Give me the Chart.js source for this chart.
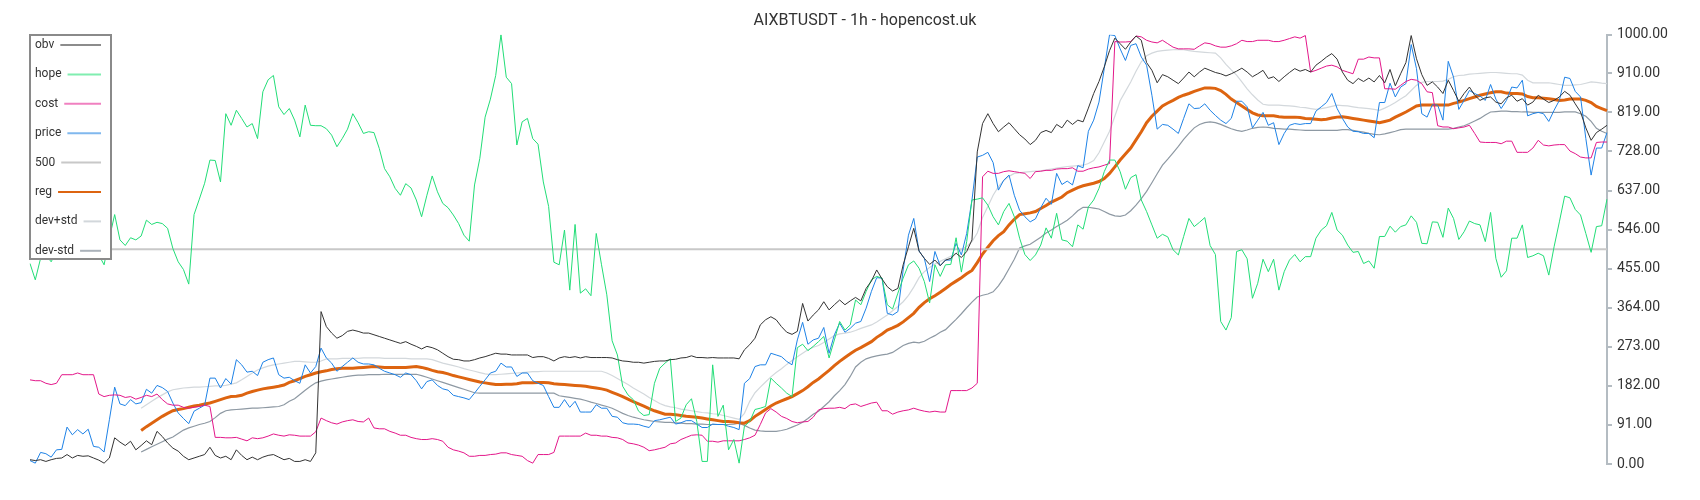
<!DOCTYPE html>
<html>
<head>
<meta charset="utf-8">
<title>AIXBTUSDT - 1h</title>
<script src="https://cdn.jsdelivr.net/npm/chart.js@4.4.1/dist/chart.umd.min.js"></script>
<style>
  html, body { margin: 0; padding: 0; background: #fff; }
  #wrap { width: 1700px; height: 500px; position: relative; }
</style>
</head>
<body>
<div id="wrap"><canvas id="chart"></canvas></div>
<script>
// values, one per hourly candle (299 of them)
const obv = [
  10, 8, 10, 6, 10, 13, 14, 22, 14, 20, 18, 19, 14, 9, 2, 14, 61, 51, 43, 53,
  33, 43, 54, 45, 76, 64, 49, 37, 30, 18, 10, 14, 18, 22, 39, 20, 14, 18, 10, 33,
  20, 10, 16, 10, 16, 20, 22, 16, 10, 13, 6,
  6, 10, 6, 26, 355, 320, 305, 293, 299, 309, 312, 309, 305, 305, 301, 297, 293, 289, 285, 281,
  285, 279, 274, 268, 274, 271, 266, 258, 250, 244, 243, 240, 240, 243, 247, 250, 254, 258, 256, 256,
  254, 254, 254, 254, 248, 250, 250, 246, 240,
  247, 250, 248, 250, 247, 250, 248, 248, 248, 248, 247, 243, 240, 239, 237, 237, 235, 237, 239, 240,
  240, 243, 244, 247, 248, 252, 248, 248, 247, 248, 247, 247, 247, 247, 245, 266, 278, 293, 324, 336,
  343, 336, 320, 307, 302, 309, 374, 333, 347,
  359, 378, 359, 371, 382, 371, 380, 388, 380, 409, 426, 452, 431, 413, 403, 409, 464, 506, 549, 496,
  479, 465, 475, 462, 475, 479, 491, 481, 495, 522, 727, 793, 816, 793, 774, 785, 795, 781, 767, 757,
  744, 754, 772, 777, 772, 791, 783, 801, 791,
  801, 797, 829, 863, 891, 925, 963, 992, 979, 966, 983, 997, 987, 935, 917, 888, 907, 902, 894, 886,
  899, 913, 902, 913, 922, 917, 912, 909, 904, 909, 915, 922, 913, 902, 909, 917, 898, 902, 891, 902,
  912, 921, 915, 919, 913, 929, 938,
  948, 956, 943, 913, 894, 886, 898, 891, 899, 890, 905, 888, 919, 881, 909, 935, 998, 944, 907, 882,
  890, 878, 863, 894, 870, 845, 863, 878, 859, 847, 853, 855, 843, 839, 853, 859, 845, 851, 836, 843,
  859, 850, 842, 847, 855, 868, 859, 839, 820, 783, 754, 772, 780, 789
];

const hope = [
  467, 429, 479, 487, 471, 495, 502, 487, 510, 495, 518, 502, 510, 487, 464, 526, 581, 522, 509, 527,
  522, 531, 568, 558, 563, 560, 549, 502, 471, 453, 419, 581, 617, 654, 708, 707, 657, 816, 789, 824,
  805, 785, 793, 758, 867, 895, 905, 832, 814, 828, 801,
  762, 836, 789, 788, 788, 781, 766, 739, 758, 780, 816, 795, 770, 774, 772, 735, 688, 669, 642, 626,
  653, 643, 615, 576, 626, 671, 634, 607, 597, 580, 560, 533, 519, 650, 712, 808, 850, 905, 1000, 901,
  886, 743, 797, 805, 758, 745, 657, 600, 470,
  464, 545, 405, 558, 398, 408, 392, 537, 464, 394, 287, 254, 181, 161, 150, 123, 113, 115, 188, 223,
  235, 245, 99, 107, 138, 152, 99, 6, 6, 231, 111, 137, 33, 57, 2, 88, 99, 127, 130, 134,
  200, 188, 177, 165, 157, 271, 279, 264, 274,
  285, 297, 247, 289, 332, 312, 324, 382, 371, 402, 429, 437, 433, 371, 361, 398, 433, 464, 473, 456,
  425, 375, 464, 437, 464, 465, 527, 447, 518, 615, 617, 620, 603, 576, 557, 588, 607, 576, 526, 488,
  474, 487, 510, 550, 526, 584, 522, 519, 506,
  557, 547, 599, 615, 642, 681, 708, 708, 681, 640, 667, 674, 615, 588, 557, 526, 535, 529, 499, 487,
  530, 572, 553, 563, 574, 509, 488, 332, 312, 341, 495, 499, 478, 386, 421, 477, 448, 477, 405, 448,
  475, 488, 471, 483, 483, 526, 545,
  555, 586, 545, 533, 510, 493, 495, 467, 473, 456, 530, 530, 554, 540, 553, 557, 578, 563, 514, 513,
  564, 563, 528, 596, 572, 523, 541, 566, 560, 557, 518, 586, 479, 435, 450, 526, 526, 557, 481, 485,
  491, 485, 440, 506, 564, 624, 620, 593, 580, 537, 493, 553, 555, 617
];

const cost = [
  196, 194, 194, 188, 185, 188, 208, 208, 208, 212, 208, 208, 208, 163, 157, 160, 161, 160, 155, 157,
  151, 155, 160, 157, 163, 150, 140, 137, 137, 132, 130, 132, 134, 137, 134, 62, 62, 61, 61, 62,
  58, 54, 61, 59, 61, 65, 70, 67, 65, 68, 67,
  65, 65, 65, 75, 107, 101, 96, 93, 98, 101, 103, 99, 98, 107, 84, 82, 82, 76, 72, 67,
  67, 62, 59, 57, 57, 59, 57, 53, 39, 33, 30, 26, 18, 18, 20, 20, 22, 23, 26, 26,
  22, 20, 18, 8, 2, 22, 22, 22, 27,
  65, 65, 65, 65, 65, 72, 67, 67, 65, 65, 62, 61, 57, 49, 47, 44, 39, 31, 33, 36,
  39, 47, 49, 57, 62, 67, 68, 67, 53, 53, 51, 54, 54, 54, 54, 57, 61, 67, 92, 119,
  129, 121, 111, 106, 99, 96, 98, 99, 109,
  126, 129, 130, 130, 132, 129, 138, 140, 134, 138, 142, 144, 124, 124, 116, 121, 124, 126, 130, 126,
  123, 121, 123, 121, 121, 171, 171, 171, 171, 177, 188, 669, 682, 677, 677, 681, 683, 681, 679, 677,
  665, 681, 682, 684, 684, 687, 688, 688, 690,
  682, 682, 687, 690, 692, 696, 700, 984, 983, 983, 984, 997, 995, 987, 983, 981, 987, 979, 971, 967,
  967, 967, 966, 974, 981, 979, 974, 971, 971, 974, 979, 987, 984, 984, 987, 987, 987, 984, 984, 987,
  991, 995, 992, 998, 913, 917, 922,
  927, 929, 925, 917, 913, 909, 943, 943, 948, 946, 946, 874, 874, 873, 882, 891, 896, 894, 886, 867,
  865, 788, 785, 785, 781, 783, 785, 789, 770, 750, 749, 749, 749, 746, 752, 752, 726, 726, 726, 736,
  754, 743, 741, 743, 744, 744, 729, 723, 715, 713, 713, 749, 750, 750
];

const price = [
  8, 2, 27, 24, 16, 33, 34, 86, 68, 80, 70, 81, 41, 39, 28, 103, 179, 140, 136, 150,
  140, 143, 174, 165, 183, 178, 169, 142, 119, 106, 94, 123, 130, 137, 200, 200, 177, 199, 186, 243,
  231, 214, 216, 206, 237, 243, 247, 208, 200, 202, 194,
  188, 231, 212, 227, 270, 247, 235, 216, 227, 237, 247, 237, 233, 233, 231, 223, 216, 212, 208, 202,
  212, 208, 194, 175, 192, 196, 183, 175, 172, 160, 157, 154, 150, 165, 181, 196, 212, 216, 235, 226,
  226, 204, 212, 212, 194, 188, 183, 157, 132,
  132, 150, 132, 146, 121, 121, 121, 138, 130, 130, 111, 109, 96, 93, 93, 92, 88, 85, 101, 103,
  106, 109, 93, 96, 101, 101, 93, 85, 85, 93, 92, 92, 88, 85, 80, 188, 199, 227, 231, 231,
  258, 254, 250, 239, 231, 289, 330, 279, 289,
  293, 318, 258, 301, 328, 307, 316, 328, 332, 363, 402, 434, 433, 351, 347, 355, 452, 533, 572, 496,
  479, 425, 495, 462, 475, 475, 514, 487, 537, 615, 715, 719, 726, 702, 638, 661, 673, 626, 591, 576,
  564, 571, 597, 619, 605, 677, 651, 659, 650,
  695, 690, 775, 801, 843, 921, 1000, 998, 967, 940, 975, 979, 948, 929, 859, 780, 791, 789, 780, 770,
  805, 839, 828, 829, 839, 824, 812, 801, 793, 805, 845, 845, 832, 783, 801, 819, 789, 795, 744, 770,
  789, 793, 791, 793, 793, 822, 832,
  842, 863, 828, 805, 785, 775, 774, 770, 770, 760, 842, 842, 887, 855, 878, 886, 977, 921, 816, 808,
  837, 836, 801, 938, 901, 826, 847, 870, 863, 857, 847, 884, 850, 828, 847, 878, 876, 894, 811, 816,
  819, 816, 798, 824, 847, 901, 898, 868, 855, 758, 673, 736, 736, 772
];

// regression and its band only start at candle 21
const regStart = 21;
const reg = [
  78, 87, 95, 103, 111, 118, 124, 127, 129, 132,
  135, 137, 140, 142, 146, 150, 154, 157, 158, 160,
  165, 169, 172, 175, 177, 179, 181, 184, 190, 194,
  199, 204, 208, 212, 215, 217, 220, 222, 223, 223,
  223, 224, 225, 226, 227, 226, 225, 225, 225, 225,
  225, 226, 227, 225, 222, 218, 215, 213, 210, 206,
  203, 200, 197, 194, 191, 189, 187, 185, 185, 186,
  186, 187, 189, 189, 189, 190, 190, 189, 187, 186,
  185, 184, 183, 182, 181, 179, 177, 175, 172, 167,
  162, 157, 151, 145, 140, 135, 129, 124, 120, 116,
  116, 115, 113, 111, 110, 109, 107, 105, 103, 101,
  99, 99, 98, 96, 95, 101, 111, 119, 127, 135,
  142, 147, 152, 157, 164, 171, 180, 190, 198, 208,
  218, 229, 239, 248, 257, 265, 271, 278, 285, 295,
  303, 312, 317, 323, 331, 341, 351, 365, 376, 385,
  392, 400, 409, 418, 426, 434, 443, 451, 469, 489,
  505, 520, 532, 541, 557, 570, 581, 583, 585, 588,
  595, 602, 610, 616, 622, 632, 638, 644, 648, 651,
  654, 658, 665, 677, 692, 708, 722, 736, 755, 774,
  795, 810, 822, 834, 841, 847, 854, 859, 863, 868,
  872, 876, 876, 875, 870, 861, 850, 842, 834, 826,
  818, 813, 811, 811, 811, 809, 808, 808, 808, 807,
  805, 804, 803, 802, 803, 806, 808, 809, 807, 805,
  803, 801, 799, 797, 795, 798, 801, 808, 814, 820,
  827, 834, 836, 836, 836, 836, 836, 836, 840, 843,
  847, 851, 855, 859, 862, 865, 867, 867, 864, 863,
  863, 862, 856, 853, 853, 852, 851, 849, 847, 848,
  850, 850, 850, 847, 842, 833, 828, 823
];

const devUp = [
  130, 138, 146, 154, 161, 168, 173, 175, 177, 178,
  179, 179, 180, 181, 182, 182, 183, 186, 189, 196,
  204, 212, 219, 224, 228, 231, 233, 235, 237, 239,
  239, 238, 237, 237, 240, 245, 245, 245, 246, 246,
  246, 246, 247, 247, 247, 247, 246, 246, 246, 246,
  246, 245, 245, 245, 245, 243, 239, 235, 232, 229,
  226, 222, 219, 216, 213, 210, 208, 208, 209, 210,
  211, 212, 213, 214, 215, 215, 216, 216, 216, 216,
  216, 216, 216, 216, 216, 216, 216, 216, 212, 206,
  199, 192, 185, 177, 170, 163, 155, 148, 141, 136,
  133, 131, 128, 126, 124, 122, 120, 119, 117, 116,
  113, 110, 107, 104, 118, 146, 166, 179, 191, 203,
  213, 222, 232, 241, 250, 258, 266, 272, 276, 283,
  291, 299, 303, 305, 307, 311, 316, 320, 324, 331,
  339, 347, 357, 367, 378, 393, 412, 434, 448, 458,
  466, 472, 478, 484, 491, 499, 507, 518, 538, 574,
  600, 626, 646, 660, 670, 677, 678, 680, 681, 682,
  683, 685, 687, 689, 691, 693, 694, 695, 696, 700,
  707, 725, 750, 775, 810, 846, 868, 890, 915, 937,
  951, 957, 961, 963, 964, 965, 966, 965, 963, 961,
  960, 959, 958, 957, 946, 931, 918, 906, 890, 874,
  860, 848, 838, 836, 836, 836, 835, 834, 833, 831,
  830, 828, 826, 828, 830, 833, 836, 835, 834, 832,
  830, 829, 828, 826, 824, 829, 835, 842, 850, 858,
  870, 882, 889, 891, 891, 891, 892, 896, 902, 905,
  906, 908, 909, 910, 911, 912, 912, 911, 910, 909,
  909, 906, 894, 888, 888, 888, 888, 886, 884, 882,
  882, 883, 884, 887, 890, 889, 887, 886
];

const devDn = [
  28, 34, 40, 46, 52, 58, 63, 71, 79, 84,
  88, 92, 95, 99, 108, 118, 124, 126, 127, 128,
  129, 130, 130, 131, 132, 133, 134, 138, 146, 152,
  162, 172, 181, 189, 193, 196, 198, 200, 202, 204,
  206, 207, 207, 208, 208, 208, 209, 209, 209, 209,
  209, 209, 209, 206, 202, 198, 194, 190, 186, 182,
  178, 174, 170, 166, 165, 165, 165, 165, 165, 165,
  165, 165, 165, 165, 165, 165, 165, 165, 165, 159,
  157, 155, 153, 151, 148, 144, 141, 137, 134, 130,
  124, 118, 113, 109, 106, 103, 101, 99, 98, 97,
  97, 96, 95, 94, 94, 93, 93, 92, 92, 92,
  92, 92, 93, 95, 90, 84, 79, 77, 76, 76,
  76, 78, 81, 86, 91, 97, 106, 116, 123, 134,
  145, 159, 171, 185, 204, 226, 237, 245, 249, 252,
  254, 256, 260, 268, 276, 281, 284, 282, 286, 293,
  299, 307, 313, 325, 337, 350, 364, 377, 389, 393,
  396, 401, 415, 433, 455, 477, 503, 508, 512, 520,
  528, 538, 545, 553, 560, 568, 578, 590, 598, 598,
  596, 594, 588, 582, 578, 577, 580, 590, 603, 618,
  635, 655, 676, 696, 710, 725, 740, 756, 770, 783,
  791, 795, 797, 795, 791, 786, 781, 777, 775, 778,
  782, 784, 785, 784, 782, 781, 780, 780, 779, 778,
  777, 777, 777, 777, 777, 777, 777, 779, 779, 777,
  775, 773, 770, 768, 767, 769, 772, 775, 779, 780,
  780, 780, 780, 780, 780, 780, 780, 780, 782, 785,
  788, 793, 799, 805, 813, 820, 821, 822, 822, 821,
  821, 820, 820, 819, 819, 819, 819, 819, 819, 820,
  820, 820, 816, 810, 798, 782, 775, 770
];

const LEVEL = 500;
const tickLabels = ["0.00", "91.00", "182.00", "273.00", "364.00", "455.00",
  "546.00", "637.00", "728.00", "819.00", "910.00", "1000.00"];

const hours = obv.map((_, i) => i);
const pad = (arr) => new Array(regStart).fill(null).concat(arr);

// legend drawn by hand: label first, then a line out to the box edge
const boxLegend = {
  id: "boxLegend",
  afterDraw(chart) {
    const ctx = chart.ctx;
    const x0 = 30, y0 = 35, w = 81, h = 224;
    ctx.save();
    ctx.fillStyle = "#fff";
    ctx.fillRect(x0, y0, w, h);
    ctx.strokeStyle = "#8a8a8a";
    ctx.lineWidth = 2;
    ctx.strokeRect(x0, y0, w, h);
    ctx.font = "12px Roboto";
    ctx.textBaseline = "middle";
    chart.data.datasets.forEach((ds, k) => {
      const y = 45 + k * 29.4;
      ctx.fillStyle = "#333";
      ctx.fillText(ds.label, 35, y);
      const tw = ctx.measureText(ds.label).width;
      ctx.strokeStyle = ds.legendColor;
      ctx.lineWidth = 2;
      ctx.beginPath();
      ctx.moveTo(35 + tw + 6, y);
      ctx.lineTo(101, y);
      ctx.stroke();
    });
    ctx.restore();
  }
};

function line(label, data, color, legendColor, width) {
  return {
    label: label,
    data: data,
    borderColor: color,
    backgroundColor: color,
    legendColor: legendColor,
    borderWidth: width,
    pointRadius: 0,
    tension: 0,
    fill: false
  };
}

new Chart(document.getElementById("chart"), {
  type: "line",
  data: {
    labels: hours,
    datasets: [
      line("obv", obv, "#333333", "#8c8c8c", 1),
      line("hope", hope, "#22dd77", "#80eeb0", 1),
      line("cost", cost, "#e3178a", "#f080c0", 1),
      line("price", price, "#1e82e6", "#80b8ee", 1),
      line("500", hours.map(() => LEVEL), "#c8c8c8", "#c8c8c8", 2),
      line("reg", pad(reg), "#dd6410", "#dd6410", 3),
      line("dev+std", pad(devUp), "#d3d8dc", "#d2d7db", 1.2),
      line("dev-std", pad(devDn), "#8e99a3", "#aab2ba", 1.2)
    ]
  },
  options: {
    responsive: true,
    maintainAspectRatio: false,
    animation: false,
    layout: { padding: { left: 30, right: 0, top: 0, bottom: 36 } },
    plugins: {
      legend: { display: false },
      tooltip: { enabled: false },
      title: {
        display: true,
        text: "AIXBTUSDT - 1h - hopencost.uk",
        color: "#333",
        font: { family: "Roboto", size: 16, weight: "normal" },
        padding: { top: 11, bottom: 4.5 }
      }
    },
    scales: {
      x: { display: false, offset: false },
      y: {
        position: "right",
        min: 0,
        max: 1000,
        afterBuildTicks: (scale) => {
          scale.ticks = tickLabels.map((t) => ({ value: parseFloat(t) }));
        },
        afterFit: (scale) => { scale.width = 93; },
        border: { display: true, color: "#b4bcc2", width: 2 },
        grid: { drawOnChartArea: false, drawTicks: true, tickLength: 5, color: "#b4bcc2", lineWidth: 2 },
        ticks: {
          color: "#333",
          padding: 5,
          font: { family: "Roboto", size: 14 },
          callback: (v, i) => tickLabels[i]
        }
      }
    }
  },
  plugins: [boxLegend]
});
</script>
</body>
</html>
